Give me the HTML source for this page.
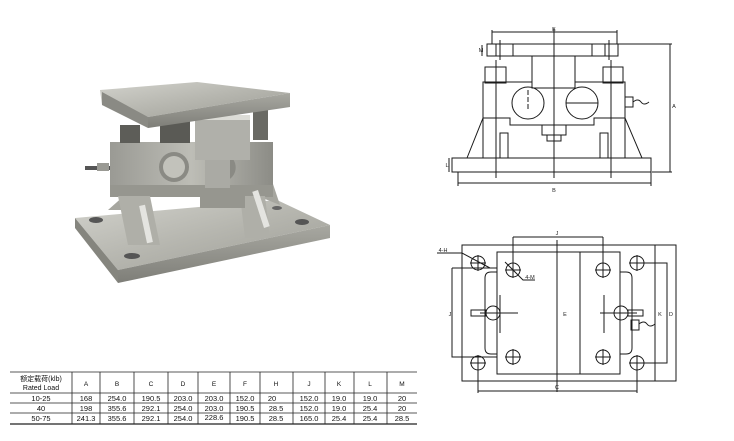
<!DOCTYPE html>
<html><head><meta charset="utf-8"><style>
body{margin:0;background:#fff;width:734px;height:441px;overflow:hidden;font-family:"Liberation Sans","Noto Sans CJK SC",sans-serif}
svg{position:absolute;left:0;top:0}
</style></head><body>
<svg width="734" height="441" viewBox="0 0 734 441" xmlns="http://www.w3.org/2000/svg">
<defs>
<linearGradient id="m1" x1="0" y1="0" x2="1" y2="1"><stop offset="0" stop-color="#d2d2cc"/><stop offset="0.5" stop-color="#b6b6af"/><stop offset="1" stop-color="#9c9c95"/></linearGradient>
<linearGradient id="m2" x1="0" y1="0" x2="0" y2="1"><stop offset="0" stop-color="#a8a8a1"/><stop offset="1" stop-color="#7e7e78"/></linearGradient>
<linearGradient id="m3" x1="0" y1="0" x2="1" y2="0"><stop offset="0" stop-color="#9a9a94"/><stop offset="0.5" stop-color="#bdbdb6"/><stop offset="1" stop-color="#8c8c86"/></linearGradient>
</defs>
<g>
<polygon points="75,218 277,200 330,225 118,270" fill="url(#m1)"/>
<polygon points="75,218 118,270 118,283 75,228" fill="#85857e"/>
<polygon points="118,270 330,225 330,238 118,283" fill="url(#m2)"/>
<ellipse cx="96" cy="220" rx="7" ry="3" fill="#555"/><ellipse cx="132" cy="256" rx="8" ry="3" fill="#555"/><ellipse cx="302" cy="222" rx="7" ry="3" fill="#555"/><ellipse cx="277" cy="208" rx="5" ry="2" fill="#666"/>
<polygon points="108,210 125,195 130,210" fill="#a6a69f"/>
<polygon points="255,195 270,175 280,205" fill="#a6a69f"/>
<rect x="110" y="142" width="163" height="55" fill="url(#m3)"/>
<rect x="110" y="185" width="163" height="12" fill="#96968f"/>
<polygon points="118,196 150,196 160,245 128,245" fill="#afafa8"/>
<polygon points="240,196 265,196 270,238 245,238" fill="#afafa8"/>
<rect x="143" y="205" width="6" height="38" fill="#e4e4e0" transform="rotate(-12 146 224)"/>
<rect x="258" y="190" width="6" height="38" fill="#e4e4e0" transform="rotate(-18 261 209)"/>
<circle cx="174" cy="167" r="15" fill="#8a8a84"/><circle cx="174" cy="167" r="11" fill="#c2c2bb"/>
<path d="M228 155 a14 14 0 0 1 0 25 z" fill="#8a8a84"/>
<rect x="120" y="125" width="20" height="18" fill="#5d5d58"/>
<rect x="253" y="110" width="15" height="30" fill="#6a6a64"/>
<rect x="160" y="118" width="30" height="25" fill="#5a5a55"/>
<rect x="205" y="155" width="25" height="40" fill="#aaaaa4"/>
<rect x="200" y="188" width="45" height="20" fill="#96968f"/>
<rect x="195" y="117" width="55" height="43" fill="#b0b0aa"/>
<rect x="195" y="115" width="55" height="5" fill="#dcdcd6"/>
<rect x="85" y="166" width="25" height="4" fill="#555"/><rect x="97" y="163" width="12" height="8" fill="#9a9a94"/>
<polygon points="100,90 197,82 290,93 148,117 102,105" fill="url(#m1)"/>
<polygon points="102,92 148,117 148,128 102,105" fill="#8a8a84"/>
<polygon points="148,117 290,93 290,107 148,128" fill="url(#m2)"/>
</g>
<g font-size="7.5" fill="#111" text-anchor="middle" stroke="none">
<g stroke="#222" stroke-width="0.8" fill="none">
<line x1="10" y1="372" x2="417" y2="372"/><line x1="10" y1="393" x2="417" y2="393"/><line x1="10" y1="403" x2="417" y2="403"/><line x1="10" y1="413" x2="417" y2="413"/><line x1="10" y1="424" x2="417" y2="424" stroke-width="1.2"/>
<line x1="72" y1="372" x2="72" y2="424"/><line x1="100" y1="372" x2="100" y2="424"/><line x1="134" y1="372" x2="134" y2="424"/><line x1="168" y1="372" x2="168" y2="424"/><line x1="198" y1="372" x2="198" y2="424"/><line x1="230" y1="372" x2="230" y2="424"/><line x1="260" y1="372" x2="260" y2="424"/><line x1="293" y1="372" x2="293" y2="424"/><line x1="325" y1="372" x2="325" y2="424"/><line x1="354" y1="372" x2="354" y2="424"/><line x1="387" y1="372" x2="387" y2="424"/>
</g>
<text x="41" y="381" font-size="7">额定载荷(klb)</text><text x="41" y="390" font-size="7">Rated Load</text>
<g font-size="6.5"><text x="86" y="386">A</text><text x="117" y="386">B</text><text x="151" y="386">C</text><text x="183" y="386">D</text><text x="214" y="386">E</text><text x="245" y="386">F</text><text x="276" y="386">H</text><text x="309" y="386">J</text><text x="339" y="386">K</text><text x="370" y="386">L</text><text x="402" y="386">M</text></g>
<text x="41" y="401">10-25</text><text x="86" y="401">168</text><text x="117" y="401">254.0</text><text x="151" y="401">190.5</text><text x="183" y="401">203.0</text><text x="214" y="401">203.0</text><text x="245" y="401">152.0</text><text x="272" y="401">20</text><text x="309" y="401">152.0</text><text x="339" y="401">19.0</text><text x="370" y="401">19.0</text><text x="402" y="401">20</text>
<text x="41" y="411">40</text><text x="86" y="411">198</text><text x="117" y="411">355.6</text><text x="151" y="411">292.1</text><text x="183" y="411">254.0</text><text x="214" y="411">203.0</text><text x="245" y="411">190.5</text><text x="276" y="411">28.5</text><text x="309" y="411">152.0</text><text x="339" y="411">19.0</text><text x="370" y="411">25.4</text><text x="402" y="411">20</text>
<text x="41" y="421">50-75</text><text x="86" y="421">241.3</text><text x="117" y="421">355.6</text><text x="151" y="421">292.1</text><text x="183" y="421">254.0</text><text x="214" y="420">228.6</text><text x="245" y="421">190.5</text><text x="276" y="421">28.5</text><text x="309" y="421">165.0</text><text x="339" y="421">25.4</text><text x="370" y="421">25.4</text><text x="402" y="421">28.5</text>
</g>
<g stroke="#1a1a1a" stroke-width="1" fill="none">
<rect x="487" y="44" width="131" height="12"/>
<line x1="492" y1="32" x2="617" y2="32"/><line x1="492" y1="30" x2="492" y2="44"/><line x1="617" y1="30" x2="617" y2="44"/>
<line x1="500" y1="40" x2="500" y2="60"/><line x1="609" y1="40" x2="609" y2="60"/><line x1="496" y1="44" x2="496" y2="56"/><line x1="513" y1="44" x2="513" y2="56"/><line x1="592" y1="44" x2="592" y2="56"/><line x1="605" y1="44" x2="605" y2="56"/>
<line x1="618" y1="44" x2="672" y2="44"/><line x1="652" y1="172" x2="672" y2="172"/><line x1="670" y1="44" x2="670" y2="172"/>
<line x1="482" y1="45" x2="482" y2="56"/>
<rect x="532" y="56" width="43" height="32"/>
<rect x="485" y="67" width="21" height="16"/><rect x="603" y="67" width="20" height="16"/>
<path d="M483 82 H532 V88 H575 V82 H625 V158 H483 Z"/>
<path d="M483 118 H510 V125 H594 V118 H625"/>
<rect x="542" y="125" width="24" height="10"/><rect x="547" y="135" width="14" height="6"/>
<rect x="500" y="133" width="8" height="25"/><rect x="600" y="133" width="8" height="25"/>
<circle cx="528" cy="103" r="16"/><circle cx="582" cy="103" r="16"/>
<line x1="528" y1="90" x2="528" y2="110" stroke-dasharray="5 2"/><line x1="566" y1="103" x2="598" y2="103"/>
<line x1="496" y1="60" x2="496" y2="178"/><line x1="611" y1="60" x2="611" y2="178"/><line x1="554" y1="28" x2="554" y2="178"/>
<path d="M483 118 L467 158 M625 118 L642 158"/>
<rect x="452" y="158" width="199" height="14"/>
<line x1="458" y1="183" x2="651" y2="183"/><line x1="458" y1="172" x2="458" y2="186"/><line x1="651" y1="172" x2="651" y2="186"/>
<line x1="449" y1="158" x2="449" y2="172"/>
<rect x="625" y="97" width="8" height="10"/><path d="M633 102 q5 -4 8 0 t8 0"/>
<rect x="462" y="245" width="214" height="136"/><line x1="655" y1="245" x2="655" y2="381"/>
<rect x="497" y="252" width="123" height="122"/><line x1="580" y1="252" x2="580" y2="374"/>
<line x1="557" y1="240" x2="557" y2="392"/>
<line x1="513" y1="237" x2="603" y2="237"/><line x1="513" y1="237" x2="513" y2="270"/><line x1="603" y1="237" x2="603" y2="270"/>
<line x1="478" y1="391" x2="637" y2="391"/><line x1="478" y1="355" x2="478" y2="393"/><line x1="637" y1="355" x2="637" y2="393"/>
<path d="M452 268 H497 M452 268 V357 H497"/>
<path d="M640 263 H667 V363 H640"/>
<path d="M497 272 h-6 q-6 0 -6 6 v70 q0 6 6 6 h6"/><path d="M620 272 h6 q6 0 6 6 v70 q0 6 -6 6 h-6"/>
<circle cx="478" cy="263" r="7"/><circle cx="637" cy="263" r="7"/><circle cx="478" cy="363" r="7"/><circle cx="637" cy="363" r="7"/>
<circle cx="513" cy="270" r="7"/><circle cx="603" cy="270" r="7"/><circle cx="513" cy="357" r="7"/><circle cx="603" cy="357" r="7"/>
<path d="M470 263h16M478 255v16M629 263h16M637 255v16M470 363h16M478 355v16M629 363h16M637 355v16M505 270h16M513 262v16M595 270h16M603 262v16M505 357h16M513 349v16M595 357h16M603 349v16"/>
<circle cx="493" cy="313" r="7"/><circle cx="621" cy="313" r="7"/>
<path d="M480 313H518M500 295V333M600 313H637M604 295V333"/>
<rect x="471" y="310" width="15" height="6"/><rect x="628" y="310" width="15" height="6"/>
<rect x="631" y="320" width="8" height="10"/><path d="M639 324 q5 -4 8 0 t8 0"/>
<path d="M437 253 H462 L490 268"/><path d="M505 262 L523 280 H535"/>
</g>
<g font-size="5.5" fill="#222" text-anchor="middle">
<text x="554" y="31">E</text><text x="554" y="192">B</text><text x="674" y="108">A</text><text x="481" y="52">M</text><text x="447" y="167">L</text>
<text x="557" y="235">J</text><text x="557" y="389">C</text><text x="443" y="252">4-H</text><text x="530" y="279">4-M</text>
<text x="450" y="316">J</text><text x="565" y="316">E</text><text x="660" y="316">K</text><text x="671" y="316">D</text>
</g>
</svg>
</body></html>
